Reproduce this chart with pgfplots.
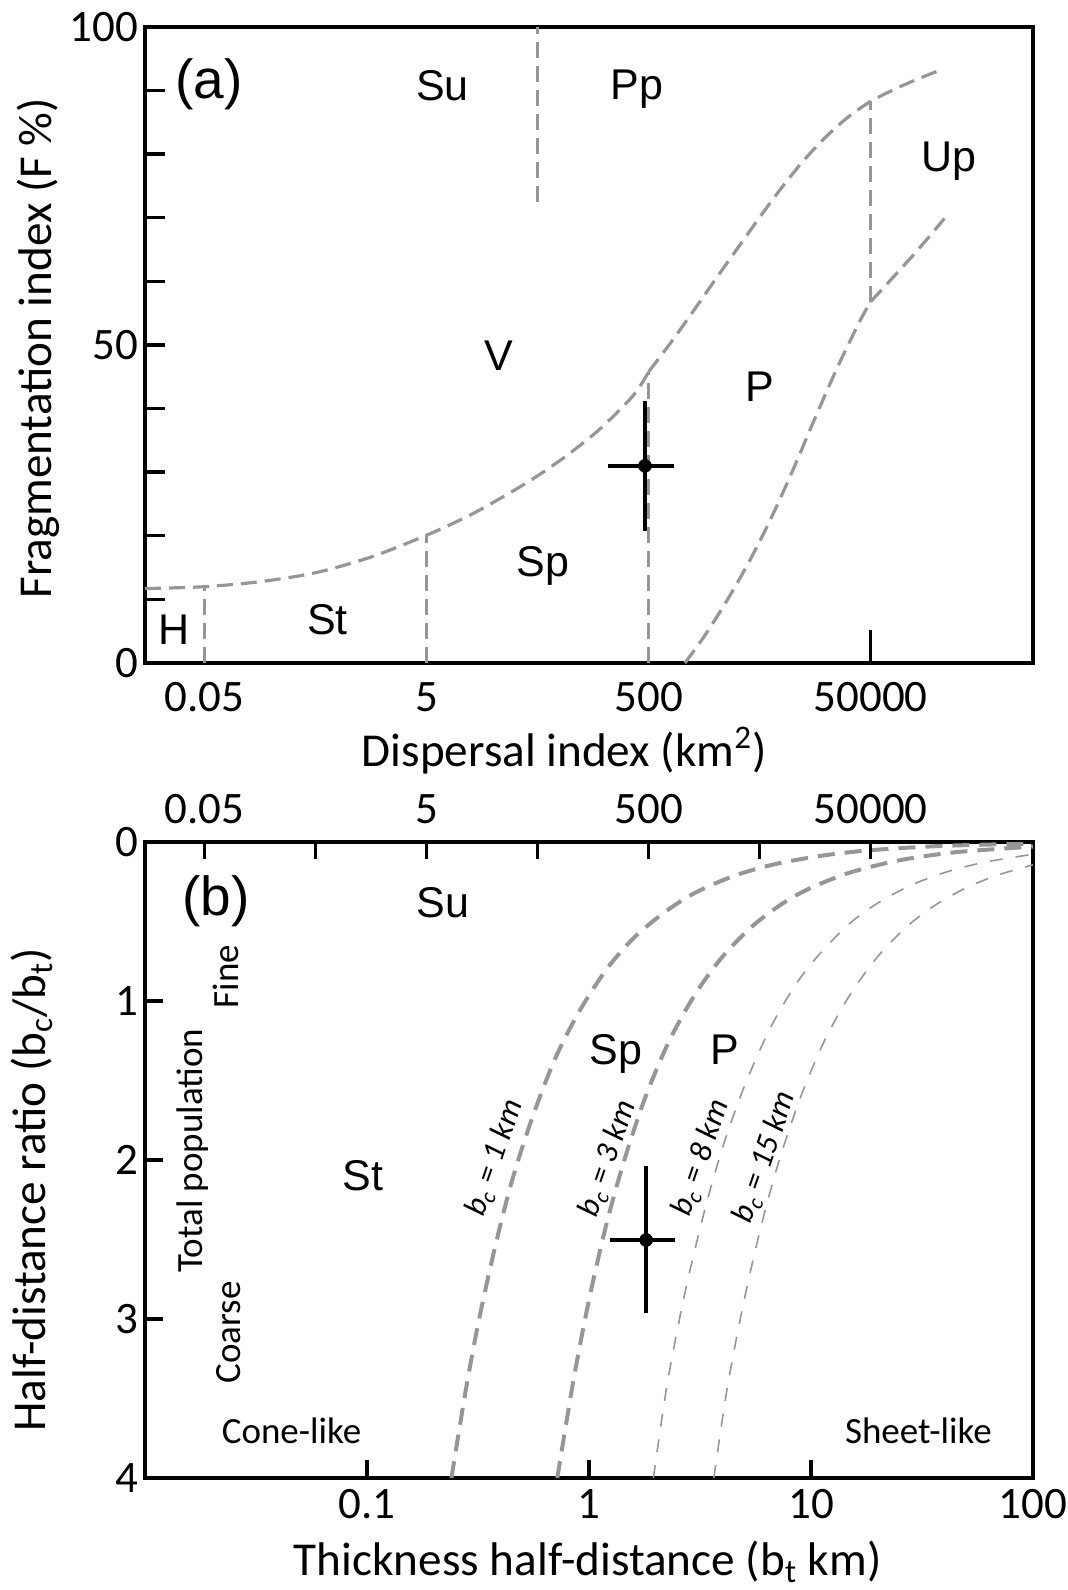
\documentclass[border=0pt]{standalone}
\usepackage{fontspec}
\setmainfont{Carlito}
\newfontfamily\arialf{Liberation Sans}
\usepackage{pgfplots}
\pgfplotsset{compat=1.18}

\definecolor{dgray}{RGB}{150,150,150}

\newcommand\tickfont{\fontsize{22.5}{27}\selectfont}
\newcommand\labfont{\fontsize{23.6}{28}\selectfont}
\newcommand\regfont{\arialf\fontsize{21.5}{26}\selectfont}
\newcommand\panfont{\arialf\fontsize{27.5}{32}\selectfont}
\newcommand\smlfont{\fontsize{18.5}{22}\selectfont}
\newcommand\bcfont{\fontsize{16}{19}\selectfont\itshape}

\pgfplotsset{
  bnd/.style={dgray, line width=1.6pt, dash pattern=on 8pt off 4pt},
  bthick/.style={dgray, line width=2pt, dash pattern=on 8.5pt off 5pt},
  bthin/.style={dgray, line width=0.8pt, dash pattern=on 6.5pt off 6.5pt},
  ebar/.style={black, line width=2pt},
}

\begin{document}
\begin{tikzpicture}
\path[use as bounding box] (-72.5pt,-463.5pt) rectangle (461.5pt,331.5pt);

% ---- panel (a)
\begin{axis}[at={(0,0)}, anchor=south west,
  scale only axis, width=444pt, height=318pt,
  xmode=log, clip mode=individual,
  axis line style={line width=2pt},
  tick style={line width=1.7pt, black},
  tick align=inside, major tick length=10pt,
  xminorticks=false, yminorticks=false,
  tick label style={font=\tickfont},
  label style={font=\labfont},
  xmin=0.0145, xmax=1.45e6, ymin=0, ymax=100,
  xtick={0.05,5,500,50000}, xticklabels={0.05,5,500,50000},
  xtick pos=bottom, xtick style={draw=none},
  xticklabel style={anchor=base, yshift=-24.35pt},
  ytick={0,10,...,100}, yticklabels={0,,,,,50,,,,,100}, ytick pos=left,
  xlabel={Dispersal index (km\textsuperscript{2})},
  xlabel style={at={(axis description cs:0.472,0)}, anchor=base, yshift=-51.85pt},
  ylabel={Fragmentation index (F \%)},
  ylabel style={at={(axis description cs:-0.1053,0.4948)}, anchor=base},
]
% regime boundaries
\addplot[bnd, smooth] coordinates {(0.0145,11.7) (0.05,12.0) (0.16,12.8) (0.5,14.2) (1.6,16.7) (5,20.1) (11.5,23.0) (22.9,25.85) (45.7,29.0) (91.2,32.6) (182,36.8) (363,42.05) (500,45.8)};
\addplot[bnd, smooth] coordinates {(500,45.8) (794,50.4) (1259,55.3) (1995,60.3) (3162,65.2) (5012,70.1) (7943,74.8) (12590,79.1) (19950,82.8) (31620,85.9) (50000,88.3) (79430,90.1) (125900,91.65) (199500,93.05)};
\addplot[bnd, smooth] coordinates {(1060,0) (1585,4.2) (2512,9.7) (3981,15.8) (6310,22.7) (10000,30.4) (15850,38.6) (25120,46.5) (39810,53.7) (50000,56.8)};
\addplot[bnd, smooth] coordinates {(50000,56.8) (124800,64.4) (231000,69.9)};
\addplot[bnd] coordinates {(0.05,0) (0.05,12.0)};
\addplot[bnd] coordinates {(5,0) (5,20.1)};
\addplot[bnd] coordinates {(500,0) (500,45.8)};
\addplot[bnd] coordinates {(50000,56.8) (50000,88.3)};
\addplot[bnd] coordinates {(50,72.5) (50,100)};
% the one bottom tick that is drawn, at 50000
\addplot[black, line width=1.7pt] coordinates {(50000,0) (50000,5.2)};
% sample
\addplot[ebar] coordinates {(216,31) (846,31)};
\addplot[ebar] coordinates {(463,20.75) (463,41.2)};
\addplot[only marks, mark=*, mark size=3.2pt, black] coordinates {(463,31)};

\node[font=\panfont, anchor=base, yshift=-7.1pt] at (axis cs:0.0549,91.0) {(a)};
\node[font=\regfont, anchor=base, yshift=-7.7pt] at (axis cs:6.945,90.9) {Su};
\node[font=\regfont, anchor=base, yshift=-7.7pt] at (axis cs:392.5,91.0) {Pp};
\node[font=\regfont, anchor=base, yshift=-7.7pt] at (axis cs:253900,79.7) {Up};
\node[font=\regfont, anchor=base, yshift=-7.7pt] at (axis cs:22.56,48.4) {V};
\node[font=\regfont, anchor=base, yshift=-7.7pt] at (axis cs:5003,43.6) {P};
\node[font=\regfont, anchor=base, yshift=-7.7pt] at (axis cs:55.85,16.1) {Sp};
\node[font=\regfont, anchor=base, yshift=-7.7pt] at (axis cs:0.6375,6.89) {St};
\node[font=\regfont, anchor=base, yshift=-7.7pt] at (axis cs:0.02657,5.35) {H};
\end{axis}

% ---- panel (b)
\begin{axis}[at={(0,-407.5pt)}, anchor=south west,
  scale only axis, width=444pt, height=318pt,
  xmode=log, clip mode=individual,
  axis line style={line width=2pt},
  tick style={line width=1.7pt, black},
  tick align=inside, major tick length=9pt,
  xminorticks=false, yminorticks=false,
  tick label style={font=\tickfont},
  label style={font=\labfont},
  xmin=0.01, xmax=100, ymin=0, ymax=4, y dir=reverse,
  xtick={0.1,1,10,100}, xticklabels={0.1,1,10,100}, xtick pos=bottom,
  xticklabel style={anchor=base, yshift=-20.15pt},
  ytick={0,1,2,3,4}, yticklabels={0,1,2,3,4}, ytick pos=left,
  xlabel={Thickness half-distance (b\textsubscript{t} km)},
  xlabel style={at={(axis description cs:0.4985,0)}, anchor=base, yshift=-48.5pt},
  ylabel={Half-distance ratio (b\textsubscript{c}/b\textsubscript{t})},
  ylabel style={at={(axis description cs:-0.1126,0.453)}, anchor=base},
]
% b_c = 1 km
\addplot[bthick, smooth] coordinates {(0.24,4.0) (0.28,3.43) (0.32,3.0) (0.38,2.53) (0.45,2.13) (0.55,1.75) (0.7,1.37) (0.9,1.07) (1.2,0.80) (1.6,0.60) (2.2,0.44) (3,0.32) (4.5,0.213) (7,0.137) (12,0.08) (20,0.048) (40,0.024) (100,0.0096)};
% b_c = 3 km
\addplot[bthick, smooth] coordinates {(0.72,4.0) (0.85,3.39) (1.0,2.88) (1.2,2.4) (1.45,1.99) (1.8,1.6) (2.3,1.25) (3,0.96) (4,0.72) (5.5,0.524) (7.5,0.384) (10,0.288) (15,0.192) (25,0.115) (45,0.064) (100,0.029)};
% b_c = 8 km
\addplot[bthin, smooth] coordinates {(1.95,4.0) (2.25,3.41) (2.7,2.84) (3.3,2.33) (4,1.92) (5,1.54) (6.5,1.18) (8.5,0.90) (11,0.70) (15,0.51) (20,0.384) (28,0.274) (40,0.192) (60,0.128) (100,0.077)};
% b_c = 15 km
\addplot[bthin, smooth] coordinates {(3.65,4.0) (4.2,3.43) (5,2.88) (6,2.4) (7.2,2.0) (9,1.6) (11.5,1.25) (15,0.96) (20,0.72) (27,0.533) (36,0.4) (50,0.288) (70,0.206) (100,0.144)};
% sample
\addplot[ebar] coordinates {(1.237,2.503) (2.442,2.503)};
\addplot[ebar] coordinates {(1.809,2.038) (1.809,2.964)};
\addplot[only marks, mark=*, mark size=3.2pt, black] coordinates {(1.809,2.503)};

\node[font=\panfont, anchor=base, yshift=-7.1pt] at (axis cs:0.02084,0.370) {(b)};
\node[font=\regfont, anchor=base, yshift=-7.7pt] at (axis cs:0.2204,0.3805) {Su};
\node[font=\regfont, anchor=base, yshift=-7.7pt] at (axis cs:1.323,1.303) {Sp};
\node[font=\regfont, anchor=base, yshift=-7.7pt] at (axis cs:4.074,1.303) {P};
\node[font=\regfont, anchor=base, yshift=-7.7pt] at (axis cs:0.0957,2.094) {St};
\node[font=\smlfont, rotate=90, anchor=base] at (axis cs:0.02628,0.846) {Fine};
\node[font=\smlfont, rotate=90, anchor=base] at (axis cs:0.01807,1.942) {Total population};
\node[font=\smlfont, rotate=90, anchor=base] at (axis cs:0.0268,3.085) {Coarse};
\node[font=\smlfont, anchor=base] at (axis cs:0.04571,3.782) {Cone-like};
\node[font=\smlfont, anchor=base] at (axis cs:30.47,3.782) {Sheet-like};
\node[font=\bcfont, rotate=71] at (axis cs:0.3767,1.989) {b\textsubscript{c} = 1 km};
\node[font=\bcfont, rotate=71] at (axis cs:1.217,1.994) {b\textsubscript{c} = 3 km};
\node[font=\bcfont, rotate=71] at (axis cs:3.196,1.989) {b\textsubscript{c} = 8 km};
\node[font=\bcfont, rotate=71] at (axis cs:6.195,1.983) {b\textsubscript{c} = 15 km};
\end{axis}

% dispersal index scale along the top of panel (b)
\begin{axis}[at={(0,-407.5pt)}, anchor=south west,
  scale only axis, width=444pt, height=318pt,
  xmode=log, xmin=0.0145, xmax=1.45e6, ymin=0, ymax=1,
  axis x line*=top, axis y line=none, x axis line style={draw=none},
  tick align=inside, major tick length=8.5pt,
  tick style={line width=1.7pt, black},
  xminorticks=false,
  xtick={0.05,0.5,5,50,500,5000,50000}, xticklabels={0.05,,5,,500,,50000},
  xticklabel style={anchor=base, yshift=9.35pt, font=\tickfont},
]
\end{axis}
\end{tikzpicture}
\end{document}
